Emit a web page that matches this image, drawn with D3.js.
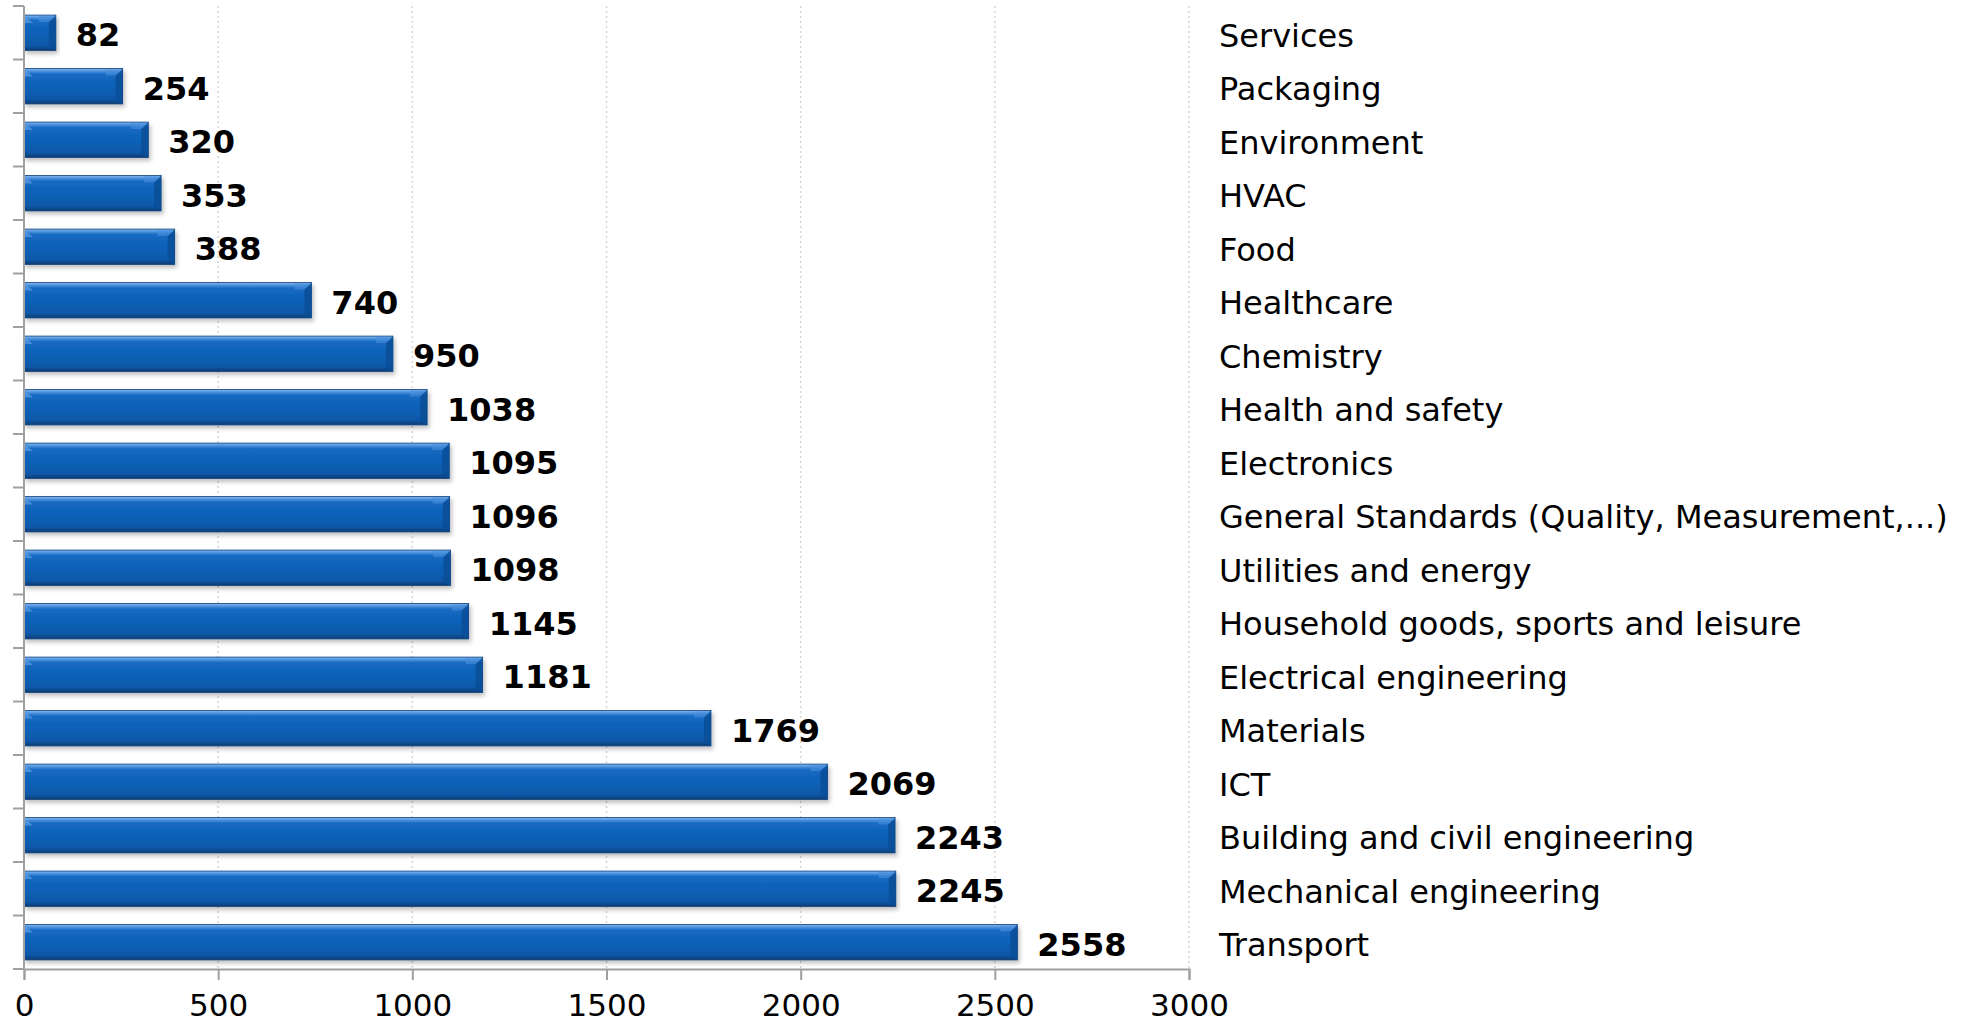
<!DOCTYPE html>
<html>
<head>
<meta charset="utf-8">
<script src="https://cdn.jsdelivr.net/npm/d3@7"></script>
<style>
  body { margin: 0; background: #fff; }
  text { font-family: "DejaVu Sans", Verdana, sans-serif; }
</style>
</head>
<body>
<div id="chart"></div>
<script>
// Data
const categories = [
    "Services", "Packaging", "Environment", "HVAC", "Food", "Healthcare",
    "Chemistry", "Health and safety", "Electronics",
    "General Standards (Quality, Measurement,...)", "Utilities and energy",
    "Household goods, sports and leisure", "Electrical engineering",
    "Materials", "ICT", "Building and civil engineering",
    "Mechanical engineering", "Transport"
];
const values = [82, 254, 320, 353, 388, 740, 950, 1038, 1095, 1096, 1098, 1145, 1181, 1769, 2069, 2243, 2245, 2558];
const xTicks = [0, 500, 1000, 1500, 2000, 2500, 3000];

function createChart() {
    const W = 1962, H = 1026;
    const left = 24, right = 1189, top = 6, bottom = 969;

    const svg = d3.select("#chart").append("svg")
        .attr("width", W)
        .attr("height", H);

    const defs = svg.append("defs");
    const grad = defs.append("linearGradient")
        .attr("id", "barGrad")
        .attr("x1", 0).attr("y1", 0).attr("x2", 0).attr("y2", 1);
    [["0%", "#86b9ef"], ["7%", "#4e93de"], ["16%", "#1569c2"], ["55%", "#0c60b6"],
     ["86%", "#0a58a8"], ["100%", "#0a3c74"]].forEach(s =>
        grad.append("stop").attr("offset", s[0]).attr("stop-color", s[1]));

    const shadow = defs.append("filter").attr("id", "shadow")
        .attr("x", "-5%").attr("y", "-20%").attr("width", "115%").attr("height", "160%");
    shadow.append("feDropShadow")
        .attr("dx", 2).attr("dy", 3).attr("stdDeviation", 2)
        .attr("flood-color", "#000").attr("flood-opacity", 0.25);

    // Skalor
    const x = d3.scaleLinear().domain([0, 3000]).range([left, right]);
    const y = d3.scaleBand().domain(categories).range([top, bottom])
        .paddingInner(0.34).paddingOuter(0.17);

    // Rutnät
    svg.append("g").selectAll("line")
        .data(xTicks.slice(1))
        .enter().append("line")
        .attr("x1", d => x(d)).attr("x2", d => x(d))
        .attr("y1", top).attr("y2", bottom)
        .attr("stroke", "#d4d4d4")
        .attr("stroke-width", 1.5)
        .attr("stroke-dasharray", "2,3");

    // Staplar
    const bars = svg.append("g").selectAll("g")
        .data(categories.map((c, i) => ({ cat: c, val: values[i] })))
        .enter().append("g");

    bars.append("rect")
        .attr("x", x(0))
        .attr("y", d => y(d.cat))
        .attr("width", d => x(d.val) - x(0))
        .attr("height", y.bandwidth())
        .attr("fill", "url(#barGrad)")
        .attr("stroke", "#0a3f7c")
        .attr("stroke-width", 0.8)
        .attr("filter", "url(#shadow)");

    // Fasning i högra änden
    const bv = 7;
    bars.append("path")
        .attr("d", d => {
            const x1 = x(d.val), y0 = y(d.cat), y1 = y0 + y.bandwidth();
            return `M${x1 - bv},${y0 + bv} L${x1},${y0} L${x1},${y1} L${x1 - bv},${y1 - 3} Z`;
        })
        .attr("fill", "#0a4d96")
        .attr("opacity", 0.85);
    bars.append("path")
        .attr("d", d => {
            const x1 = x(d.val), y0 = y(d.cat);
            return `M${x1 - bv - 10},${y0 + 1} L${x1},${y0 + 1} L${x1 - bv},${y0 + bv} L${x1 - bv - 10},${y0 + bv} Z`;
        })
        .attr("fill", "#4a8fdc")
        .attr("opacity", 0.6);
    bars.append("path")
        .attr("d", d => {
            const x0 = x(0), y0 = y(d.cat);
            return `M${x0 + 1},${y0 + 1} L${x0 + 9},${y0 + 8} L${x0 + 1},${y0 + 8} Z`;
        })
        .attr("fill", "#5c9de2")
        .attr("opacity", 0.7);

    // Värdeetiketter
    bars.append("text")
        .attr("x", d => x(d.val) + 20)
        .attr("y", d => y(d.cat) + y.bandwidth() / 2)
        .attr("dy", "0.42em")
        .attr("font-size", 32)
        .attr("font-weight", "bold")
        .attr("fill", "#000")
        .text(d => d.val);

    // Kategorietiketter
    svg.append("g").selectAll("text")
        .data(categories)
        .enter().append("text")
        .attr("x", 1219)
        .attr("y", d => y(d) + y.bandwidth() / 2)
        .attr("dy", "0.43em")
        .attr("font-size", 32)
        .attr("fill", "#000")
        .text(d => d);

    // y-axel
    const yAxis = svg.append("g");
    yAxis.append("line")
        .attr("x1", left).attr("x2", left).attr("y1", top).attr("y2", bottom)
        .attr("stroke", "#a0a0a0").attr("stroke-width", 2);
    const bounds = categories.map(c => y(c) - y.step() * y.paddingInner() / 2);
    bounds.push(bottom);
    yAxis.selectAll("line.tick")
        .data(bounds)
        .enter().append("line")
        .attr("class", "tick")
        .attr("x1", left - 11).attr("x2", left)
        .attr("y1", d => d).attr("y2", d => d)
        .attr("stroke", "#a0a0a0").attr("stroke-width", 2);

    // x-axel
    const xAxis = svg.append("g")
        .attr("transform", `translate(0,${bottom})`)
        .call(d3.axisBottom(x).tickValues(xTicks).tickSize(11).tickPadding(14).tickFormat(d3.format("d")));
    xAxis.select(".domain").attr("stroke", "#a0a0a0").attr("stroke-width", 2);
    xAxis.selectAll(".tick line").attr("stroke", "#a0a0a0").attr("stroke-width", 2);
    xAxis.selectAll(".tick text")
        .attr("font-size", 31)
        .attr("font-family", "DejaVu Sans, Verdana, sans-serif")
        .attr("fill", "#000");
}

createChart();
</script>
</body>
</html>
